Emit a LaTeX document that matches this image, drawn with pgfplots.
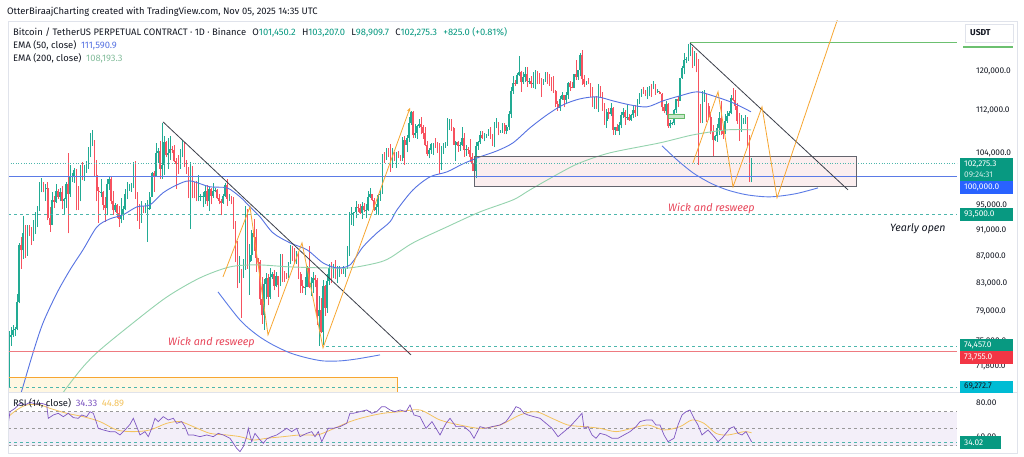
\documentclass[border=0pt]{standalone}
\usepackage{pgfplots}
\pgfplotsset{compat=1.18}
\usepackage{pgfplotstable}
\usepackage{fontspec}
\setmainfont{Fira Sans}
\usetikzlibrary{arrows.meta}

\definecolor{tvtext}{HTML}{131722}
\definecolor{upc}{HTML}{22AB94}
\definecolor{dnc}{HTML}{F7525F}
\definecolor{emaA}{HTML}{5672E2}
\definecolor{emaB}{HTML}{94D3AE}
\definecolor{tvgreen}{HTML}{089981}
\definecolor{tvred}{HTML}{F23645}
\definecolor{tvblue}{HTML}{2962FF}
\definecolor{tvcyan}{HTML}{00BCD4}
\definecolor{tealdash}{HTML}{4DB6AC}
\definecolor{orng}{HTML}{F7A631}
\definecolor{rsic}{HTML}{7E57C2}
\definecolor{rsima}{HTML}{F3C35E}
\definecolor{framec}{HTML}{E0E3EB}
\definecolor{wickc}{HTML}{E8475B}
\definecolor{lvlred}{HTML}{EE7A80}
\definecolor{hblue}{HTML}{5B7BE6}
\definecolor{trend}{HTML}{3C3F4A}
\definecolor{lgreen}{HTML}{6CC070}

\pgfkeys{/pgfplots/table/pix/.style={/pgfplots/table/row sep=\\, /pgfplots/table/x=x, /pgfplots/table/y expr={120*exp((71-\thisrow{y})/576)}}}
\pgfplotsset{candle/.style 2 args={draw=none, mark=none,
  error bars/.cd, y dir=plus, y explicit, error mark=none,
  error bar style={draw=#1, solid, line width=#2}}}

% daily candles (thousand USDT), 6 Nov 2024 ... 5 Nov 2025
\pgfplotstableread{
o h l c
69.4 76.4 69.3 75.6
75.6 76.9 74.5 75.9
75.9 77.2 75.6 76.5
76.5 76.9 75.8 76.7
76.7 81.5 76.5 80.4
80.4 89.0 80.2 88.7
88.7 89.9 85.1 87.9
87.9 93.3 86.6 90.5
90.5 91.8 86.7 87.3
87.3 91.9 87.1 91.0
91.0 91.9 90.1 90.6
90.6 91.5 88.7 89.8
89.8 92.6 89.4 90.5
90.5 94.0 90.4 92.3
92.3 94.9 91.5 94.3
94.3 98.9 94.1 98.3
98.3 99.6 97.2 98.9
98.9 98.9 97.2 97.7
97.7 98.6 95.8 98.0
98.0 98.9 92.6 93.0
93.0 94.7 90.8 91.9
91.9 97.2 91.8 95.9
95.9 96.6 94.6 95.6
95.6 98.7 95.4 97.4
97.4 97.8 96.0 96.4
96.4 97.9 95.7 97.2
97.2 98.2 94.4 95.8
95.8 96.3 93.6 96.0
96.0 99.0 94.6 98.7
98.7 104.0 90.5 96.9
96.9 101.9 96.5 99.8
99.8 100.5 99.0 99.9
99.9 101.4 98.8 101.1
101.1 101.2 94.2 97.3
97.3 98.3 94.3 96.6
96.6 101.9 95.7 101.1
101.1 102.5 99.3 100.0
100.0 102.0 99.2 101.4
101.4 102.6 100.6 101.4
101.4 105.1 101.2 104.3
104.3 107.8 103.3 106.0
106.0 108.3 105.3 106.1
106.1 106.5 100.0 100.2
100.2 102.8 95.7 97.4
97.4 98.1 92.2 97.2
97.2 99.5 96.4 97.2
97.2 97.4 94.2 95.1
95.1 96.4 92.4 94.6
94.6 99.4 93.4 98.6
98.6 99.9 97.6 99.4
99.4 99.9 95.2 95.8
95.8 97.4 93.5 94.2
94.2 95.5 94.0 95.1
95.1 95.2 93.0 93.7
93.7 94.9 91.5 92.8
92.8 96.2 92.1 93.4
93.4 95.0 92.7 94.4
94.4 97.8 94.2 96.9
96.9 98.9 96.0 98.1
98.1 98.7 97.5 98.2
98.2 98.8 97.3 98.3
98.3 102.5 97.9 102.2
102.2 102.7 96.1 96.9
96.9 97.2 92.5 95.0
95.0 95.3 91.2 92.5
92.5 95.8 92.2 94.7
94.7 95.0 93.8 94.5
94.5 95.4 93.7 94.5
94.5 95.9 89.2 94.5
94.5 97.3 94.3 96.5
96.5 100.7 96.5 100.5
100.5 100.8 97.3 99.9
99.9 105.9 99.9 104.1
104.1 104.9 102.3 104.4
104.4 106.3 99.5 101.3
101.3 109.6 99.5 102.0
102.0 107.2 100.1 106.1
106.1 106.3 103.3 103.7
103.7 106.8 101.2 104.0
104.0 107.1 102.8 104.8
104.8 105.3 104.1 104.7
104.7 105.5 102.5 102.6
102.6 103.2 97.8 102.1
102.1 103.8 100.3 101.3
101.3 104.8 101.3 103.7
103.7 106.5 103.3 104.7
104.7 106.0 101.6 102.4
102.4 102.8 100.3 100.6
100.6 101.5 96.2 97.7
97.7 102.5 91.2 101.4
101.4 101.7 96.2 97.9
97.9 99.0 96.2 96.6
96.6 99.2 95.7 96.5
96.5 100.1 95.7 96.5
96.5 96.9 95.7 96.5
96.5 97.3 94.7 96.5
96.5 98.3 95.3 97.4
97.4 98.5 94.9 95.7
95.7 98.1 94.1 97.8
97.8 98.0 95.2 96.6
96.6 98.8 96.3 97.5
97.5 97.9 97.2 97.6
97.6 97.7 96.1 96.2
96.2 97.0 95.2 95.8
95.8 96.0 93.4 95.5
95.5 96.9 95.3 96.6
96.6 98.8 96.4 98.4
98.4 99.5 94.9 96.1
96.1 96.9 95.8 96.6
96.6 96.6 95.2 96.1
96.1 96.5 91.2 91.5
91.5 92.5 86.1 88.7
88.7 89.3 82.3 84.3
84.3 87.0 83.0 84.7
84.7 85.1 78.2 84.4
84.4 86.6 83.8 86.0
86.0 95.0 85.0 94.3
94.3 94.4 85.1 86.1
86.1 88.9 81.4 87.2
87.2 91.0 86.3 90.6
90.6 92.8 87.8 89.9
89.9 91.2 84.7 86.7
86.7 86.8 85.2 86.2
86.2 86.5 80.0 80.7
80.7 83.9 77.4 78.5
78.5 83.6 76.6 82.9
82.9 84.5 80.7 83.7
83.7 84.3 79.9 81.1
81.1 85.3 80.8 83.9
83.9 84.7 83.6 84.3
84.3 85.0 82.0 82.6
82.6 84.7 82.4 84.0
84.0 84.0 81.1 82.7
82.7 87.4 82.6 86.8
86.8 87.4 83.2 84.2
84.2 84.8 83.2 84.0
84.0 84.5 83.6 83.8
83.8 86.1 83.7 86.1
86.1 88.7 85.8 87.5
87.5 88.5 86.3 87.4
87.4 88.3 85.8 86.9
86.9 87.8 85.8 87.2
87.2 87.5 83.6 84.4
84.4 84.6 81.6 82.6
82.6 83.5 81.6 82.3
82.3 83.9 81.3 82.5
82.5 85.5 82.4 85.2
85.2 88.5 82.3 82.5
82.5 83.9 81.2 83.1
83.1 84.7 81.6 83.8
83.8 84.2 82.4 83.5
83.5 83.8 77.2 78.4
78.4 81.2 74.5 79.2
79.2 80.9 76.2 76.3
76.3 83.5 74.6 82.6
82.6 82.7 78.4 79.6
79.6 84.3 78.9 83.4
83.4 85.9 82.8 85.3
85.3 86.1 83.0 83.7
83.7 85.8 83.7 84.5
84.5 86.5 83.6 83.6
83.6 85.5 83.1 84.0
84.0 85.5 83.9 84.9
84.9 85.1 84.3 84.5
84.5 85.6 84.4 85.1
85.1 85.3 83.9 85.2
85.2 88.5 85.1 87.5
87.5 93.9 87.1 93.4
93.4 94.7 91.9 93.7
93.7 94.0 91.7 93.9
93.9 95.8 92.9 94.7
94.7 95.3 93.9 94.6
94.6 95.2 93.6 93.7
93.7 95.6 92.8 95.0
95.0 95.5 93.9 94.2
94.2 95.2 92.9 94.2
94.2 97.4 94.1 96.5
96.5 97.9 96.3 96.9
96.9 96.9 95.7 95.9
95.9 96.3 94.1 94.3
94.3 95.2 93.5 94.7
94.7 96.9 93.4 96.8
96.8 97.7 95.8 97.0
97.0 103.9 96.9 103.2
103.2 104.3 102.3 103.0
103.0 104.9 102.8 104.6
104.6 104.9 103.3 104.1
104.1 105.8 100.7 102.8
102.8 104.9 101.4 104.1
104.1 104.3 102.6 103.5
103.5 104.2 101.4 103.7
103.7 104.5 103.1 103.5
103.5 103.7 102.6 103.1
103.1 107.0 102.6 106.5
106.5 107.1 102.0 105.6
105.6 107.3 104.2 106.8
106.8 110.8 106.1 109.6
109.6 112.0 109.3 111.7
111.7 111.9 106.8 107.3
107.3 109.5 106.9 107.8
107.8 109.3 106.6 109.0
109.0 110.4 108.7 109.4
109.4 110.7 107.5 108.9
108.9 109.3 106.7 107.8
107.8 108.9 105.3 105.6
105.6 106.3 103.6 103.9
103.9 104.9 103.1 104.6
104.6 105.9 103.9 105.7
105.7 105.9 103.7 105.8
105.8 106.8 105.0 105.4
105.4 106.0 104.1 104.7
104.7 105.9 100.4 101.5
101.5 105.3 101.1 104.3
104.3 105.9 103.9 105.6
105.6 106.0 105.0 105.7
105.7 110.5 105.4 110.2
110.2 110.4 108.3 110.2
110.2 110.4 108.1 108.6
108.6 108.8 105.6 105.6
105.6 106.2 102.7 106.0
106.0 106.2 104.3 105.4
105.4 106.1 104.5 105.6
105.6 108.9 105.4 106.8
106.8 107.8 103.4 104.6
104.6 105.6 103.6 104.8
104.8 105.2 103.9 104.6
104.6 106.6 102.4 103.3
103.3 104.0 100.8 102.1
102.1 103.0 99.3 100.9
100.9 106.1 99.6 105.4
105.4 106.3 104.7 106.0
106.0 108.1 105.8 107.3
107.3 108.2 106.6 106.9
106.9 107.8 106.2 107.1
107.1 107.6 106.8 107.3
107.3 108.5 107.2 108.4
108.4 108.8 106.7 107.1
107.1 107.6 105.3 105.7
105.7 109.8 105.1 108.8
108.8 110.5 108.6 109.6
109.6 109.8 107.3 108.0
108.0 108.4 107.8 108.2
108.2 109.7 107.8 109.2
109.2 109.7 107.5 108.2
108.2 109.2 107.5 108.9
108.9 111.9 108.4 111.3
111.3 116.8 110.6 115.9
115.9 118.9 115.3 117.5
117.5 118.2 116.9 117.4
117.4 119.5 117.3 119.1
119.1 123.2 118.9 119.8
119.8 119.9 115.7 117.7
117.7 119.8 117.3 118.7
118.7 120.9 117.8 119.3
119.3 120.9 116.8 117.9
117.9 118.6 117.3 117.9
117.9 118.9 116.5 117.3
117.3 119.7 116.5 117.4
117.4 120.2 116.2 119.9
119.9 120.0 117.3 118.6
118.6 119.5 117.4 118.3
118.3 118.5 114.7 117.6
117.6 118.3 117.2 117.9
117.9 119.8 117.8 119.4
119.4 119.8 117.4 118.0
118.0 119.3 116.9 117.9
117.9 118.8 115.8 117.8
117.8 118.9 115.5 115.8
115.8 116.0 112.7 113.3
113.3 114.0 112.0 112.5
112.5 114.8 112.0 114.2
114.2 115.7 114.1 115.0
115.0 115.1 112.7 114.1
114.1 115.7 113.4 115.0
115.0 117.7 114.3 117.5
117.5 117.9 115.9 116.7
116.7 117.7 116.4 116.5
116.5 119.3 116.5 119.3
119.3 122.3 118.1 118.7
118.7 120.3 118.2 120.2
120.2 123.7 118.9 123.3
123.3 124.5 117.2 118.3
118.3 119.2 116.8 117.4
117.4 117.9 117.2 117.5
117.5 118.6 117.3 117.4
117.4 117.6 114.7 116.2
116.2 116.8 112.7 112.9
112.9 114.6 112.4 114.3
114.3 114.8 112.4 112.5
112.5 117.4 111.7 116.9
116.9 117.0 114.7 115.4
115.4 115.6 112.0 113.5
113.5 113.6 109.3 110.1
110.1 112.4 108.7 111.8
111.8 112.6 110.4 111.3
111.3 113.5 110.9 112.6
112.6 112.7 107.4 108.4
108.4 108.9 107.4 108.8
108.8 109.5 108.1 108.2
108.2 109.9 107.3 109.2
109.2 111.8 108.6 111.2
111.2 112.6 110.6 111.7
111.7 112.2 109.3 110.7
110.7 113.4 110.2 110.7
110.7 111.3 110.1 110.2
110.2 111.4 110.1 111.1
111.1 112.9 110.6 112.1
112.1 113.2 110.8 111.5
111.5 114.3 110.9 113.9
113.9 115.5 113.4 115.5
115.5 116.3 114.7 116.1
116.1 116.7 115.3 115.9
115.9 116.0 114.8 115.3
115.3 116.8 114.4 115.4
115.4 117.0 114.8 116.8
116.8 117.3 114.7 116.5
116.5 117.9 116.2 117.1
117.1 117.4 115.1 115.7
115.7 116.3 115.5 115.7
115.7 115.9 115.2 115.3
115.3 115.4 111.9 112.7
112.7 113.3 111.5 112.0
112.0 114.0 111.1 113.3
113.3 113.5 108.7 109.0
109.0 110.2 108.6 109.6
109.6 109.8 109.2 109.7
109.7 112.4 109.2 112.1
112.1 114.4 111.6 114.4
114.4 114.8 112.7 114.0
114.0 118.6 113.9 118.6
118.6 121.0 118.4 120.6
120.6 123.9 119.3 122.3
122.3 122.9 121.6 122.4
122.4 125.7 122.1 123.5
123.5 126.2 123.1 124.7
124.7 125.1 120.6 121.4
121.4 124.2 121.0 123.3
123.3 123.7 119.7 121.7
121.7 122.5 102.0 113.2
113.2 113.4 109.6 110.6
110.6 115.8 109.6 115.2
115.2 116.0 113.8 115.3
115.3 115.3 109.8 113.0
113.0 113.6 110.2 110.8
110.8 111.7 107.5 108.2
108.2 109.2 103.5 106.4
106.4 107.4 106.3 107.2
107.2 109.4 106.1 108.6
108.6 111.7 107.4 110.6
110.6 114.0 107.4 108.4
108.4 109.1 106.6 107.6
107.6 111.3 107.5 110.1
110.1 112.0 109.7 111.0
111.0 111.9 110.9 111.6
111.6 115.0 111.3 114.5
114.5 116.4 113.9 114.1
114.1 116.1 112.2 112.9
112.9 113.6 109.5 110.0
110.0 111.6 106.3 108.3
108.3 111.2 108.0 109.6
109.6 110.5 109.4 110.1
110.1 111.2 109.5 110.5
110.5 110.8 105.3 106.5
106.5 107.3 99.0 101.5
101.45 103.2 98.9 102.3
}\candles

% RSI(14) and its moving average: x = pixel column, value = RSI
\pgfplotstableread{
x r
8.3 56.1
10 69.8
15 73.7
20 79.6
25 77.7
30 80.8
36.7 78.5
41.7 79.6
46.7 77.7
48.3 62.0
53.3 65.9
58.3 67.9
63.3 63.9
68.3 67.9
73.3 62.8
78.3 62.0
81.7 65.9
86.7 63.9
90 69.8
93.3 67.9
95 62.0
98.3 50.2
103.3 48.3
110 46.3
115 46.3
120 42.4
125 48.3
130 54.9
133.3 62.0
136.7 52.2
140 42.4
145 46.3
148.3 40.4
151.7 50.2
155 62.0
158.3 58.1
163.3 63.9
168.3 60.0
173.3 62.0
176.7 56.1
181.7 58.1
185 52.2
188.3 42.4
193.3 42.4
200 40.4
206.7 42.4
213.3 40.4
218.3 44.3
223.3 42.4
230 38.5
233.3 32.6
236.7 26.7
240 22.8
243.3 28.7
246.7 40.4
248.3 50.2
251.7 34.5
255 44.3
260 36.5
263.3 32.6
266.7 37.7
271.7 40.4
276.7 42.4
281.7 46.3
286.7 50.2
291.7 46.3
296.7 50.2
300 40.4
303.3 42.4
306.7 44.3
311.7 46.3
315 40.4
318.3 46.3
321.7 34.5
325 42.4
328.3 50.2
333.3 50.2
340 52.2
346.7 56.1
350 67.9
353.3 67.9
360 69.8
366.7 71.8
371.7 67.9
376.7 69.8
381.7 75.7
385 75.7
390 71.8
395 69.8
400 71.8
406 69.8
410 77.7
414 65.9
420 63.9
426 50.2
432 58.1
440 42.4
446 56.1
450 62.0
456 52.2
464 52.2
470 46.3
474 38.5
480 52.2
486 50.2
492 52.2
500 54.1
506 58.1
512 67.9
516 75.7
520 73.7
524 67.9
528 65.9
534 63.9
540 62.0
546 56.1
552 50.2
558 40.4
564 46.3
570 52.2
576 60.0
582 67.9
584 50.2
588 52.2
592 42.4
596 38.5
600 44.3
606 42.4
612 38.5
618 38.5
624 42.4
630 46.3
636 52.2
640 58.1
646 60.0
652 60.0
656 54.1
660 54.1
664 42.4
668 34.5
674 38.5
678 54.1
682 65.9
686 69.8
690 71.8
694 62.0
698 54.1
702 42.4
708 48.3
714 40.4
718 34.5
722 38.5
726 44.3
730 50.2
734 52.2
738 44.3
742 42.4
746 46.3
751.6 34.3
}\rsi

\pgfplotstableread{
x r
8.3 63.9
16.7 71.8
26.7 77.7
40 77.7
50 73.7
66.7 67.9
83.3 63.9
100 58.1
116.7 48.3
133.3 46.3
150 48.3
166.7 56.1
180 58.1
193.3 52.2
210 44.3
226.7 42.4
240 40.4
253.3 36.5
266.7 38.5
283.3 40.4
300 42.4
316.7 42.4
326.7 46.3
350 58.1
366.7 63.9
383.3 67.9
400 69.8
420 71.8
440 60.0
460 54.1
480 50.2
500 54.1
520 65.9
536 69.8
552 62.0
568 54.1
584 52.2
600 50.2
616 46.3
632 50.2
648 54.1
664 48.3
680 52.2
692 60.0
704 56.1
716 44.3
728 42.4
744 46.3
751.6 44.9
}\rsima

\begin{document}
\begin{tikzpicture}[font=\fontsize{9.4}{10}\selectfont]
\fill[white] (0,0) rectangle (1024pt,456pt);
\path[use as bounding box] (0,0) rectangle (1024pt,456pt);

% ---------------- price pane ----------------
\begin{axis}[
  at={(8pt,64pt)}, anchor=south west, scale only axis,
  width=949pt, height=371pt,
  xmin=8, xmax=957,
  ymode=log, ymin=68.73, ymax=130.88,
  axis line style={draw=none},
  xtick=\empty,
  ytick={71.8,75,79,83,87,91,95,104,112,120},
  yticklabels={{71,800.0},{75,000.0},{79,000.0},{83,000.0},{87,000.0},{91,000.0},{95,000.0},{104,000.0},{112,000.0},{120,000.0}},
  yticklabel pos=right,
  major tick length=0pt,
  yticklabel style={anchor=west, inner sep=0pt, xshift=19pt, text=tvtext, font=\fontsize{8.3}{9}\selectfont},
  clip=true,
]
% box fills
\addplot[draw=none, fill={rgb,255:red,251;green,238;blue,239}] table[pix] {x y\\474 157\\856 157\\856 187\\474 187\\};
\addplot[draw=none, fill={rgb,255:red,255;green,247;blue,226}] table[pix] {x y\\8 377\\397 377\\397 400\\8 400\\};

% candles: each series draws only its own candles (zero length for the others)
\addplot[candle={upc}{0.6pt}]
  table[x expr=9+2.04*\coordindex, y=l, y error plus expr={\thisrow{c}>=\thisrow{o} ? \thisrow{h}-\thisrow{l} : 0}] {\candles};
\addplot[candle={dnc}{0.6pt}]
  table[x expr=9+2.04*\coordindex, y=l, y error plus expr={\thisrow{c}<\thisrow{o} ? \thisrow{h}-\thisrow{l} : 0}] {\candles};
\addplot[candle={upc}{1.6pt}]
  table[x expr=9+2.04*\coordindex, y=o, y error plus expr={\thisrow{c}>=\thisrow{o} ? max(\thisrow{c}-\thisrow{o},0.12) : 0}] {\candles};
\addplot[candle={dnc}{1.6pt}]
  table[x expr=9+2.04*\coordindex, y=c, y error plus expr={\thisrow{c}<\thisrow{o} ? max(\thisrow{o}-\thisrow{c},0.12) : 0}] {\candles};

% EMA 200 and EMA 50
\addplot[emaB, line width=0.9pt, smooth] table[pix] {x y\\60 398\\65 390\\83 367\\100 350\\133 323\\167 297\\200 278\\230 267\\257 265\\290 267\\323 268\\350 268\\377 263\\390 258\\413 243\\447 227\\480 212\\513 200\\530 190\\560 173\\580 163\\610 153\\660 143\\693 135\\727 130\\751 130\\};
\addplot[emaA, line width=0.9pt, smooth] table[pix] {x y\\19 400\\22 390\\33 353\\43 323\\57 293\\70 270\\83 250\\97 227\\110 219\\123 215\\137 207\\150 205\\163 193\\177 185\\190 181\\210 187\\227 188\\240 197\\250 207\\260 217\\273 233\\290 243\\307 250\\323 263\\337 268\\350 265\\363 247\\377 233\\390 222\\397 210\\413 190\\430 177\\447 172\\463 164\\480 157\\497 151\\513 143\\530 128\\547 115\\563 105\\580 99\\597 97\\613 101\\630 105\\647 107\\663 101\\680 96\\697 92\\713 96\\733 103\\751 112\\};

% horizontal levels
\addplot[hblue, line width=0.8pt] coordinates {(8,100) (957,100)};
\addplot[tealdash, line width=0.6pt, dotted] coordinates {(8,102.2753) (957,102.2753)};
\addplot[tealdash, line width=0.8pt, dash pattern=on 3pt off 3pt] coordinates {(8,93.5) (957,93.5)};
\addplot[tealdash, line width=0.8pt, dash pattern=on 3pt off 3pt] coordinates {(326,74.457) (957,74.457)};
\addplot[lvlred, line width=0.9pt] coordinates {(8,73.755) (957,73.755)};
\addplot[tealdash, line width=0.8pt, dash pattern=on 3pt off 3pt] coordinates {(8,69.2727) (957,69.2727)};
\addplot[lgreen, line width=0.8pt] coordinates {(690,126.1) (957,126.1)};

% drawings
\addplot[draw=orng, line width=0.8pt] table[pix] {x y\\8 377\\397 377\\397 400\\};
\addplot[draw=trend!80, line width=0.8pt] table[pix] {x y\\474 157\\856 157\\856 187\\474 187\\474 157\\};
\addplot[draw={rgb,255:red,102;green,187;blue,106}, fill={rgb,255:red,200;green,230;blue,201}, line width=0.5pt] table[pix] {x y\\668 114\\684 114\\684 118\\668 118\\668 114\\};
\addplot[trend, line width=0.8pt] table[pix] {x y\\163 122\\411 355\\};
\addplot[trend, line width=0.8pt] table[pix] {x y\\690 43\\848 190\\};
\addplot[hblue, line width=0.9pt, smooth] table[pix] {x y\\218 292\\240 320\\257 335\\273 345\\290 353\\307 358\\323 361\\340 361\\357 359\\380 355\\};
\addplot[hblue, line width=0.9pt, smooth] table[pix] {x y\\662 146\\677 160\\693 173\\710 183\\727 190\\747 195\\770 197\\795 194\\818 188\\};
\addplot[orng, line width=0.8pt, -{Stealth[length=4pt,width=3.5pt]}] table[pix] {x y\\223 277\\250 207\\268 335\\302 243\\323 348\\410 108\\};
\addplot[orng, line width=0.8pt] table[pix] {x y\\693 163\\718 92\\733 187\\762 107\\777 198\\840 12\\};
\end{axis}

% ---------------- RSI pane ----------------
\begin{axis}[
  at={(8pt,3pt)}, anchor=south west, scale only axis,
  width=949pt, height=60pt,
  xmin=8, xmax=957, ymin=21.18, ymax=91.76,
  axis line style={draw=none}, xtick=\empty,
  ytick={40,80}, yticklabels={40.00,80.00},
  yticklabel pos=right, major tick length=0pt,
  yticklabel style={anchor=west, inner sep=0pt, xshift=19pt, text=tvtext, font=\fontsize{8.3}{9}\selectfont},
  clip=true,
]
\addplot[draw=none, fill=rsic, fill opacity=0.09] coordinates {(8,30) (957,30) (957,70) (8,70)} -- cycle;
\addplot[gray!80, line width=0.6pt, dash pattern=on 3pt off 3pt] coordinates {(8,70) (957,70)};
\addplot[gray!80, line width=0.6pt, dash pattern=on 3pt off 3pt] coordinates {(8,50) (957,50)};
\addplot[gray!80, line width=0.6pt, dash pattern=on 3pt off 3pt] coordinates {(8,30) (957,30)};
\addplot[tealdash, line width=0.7pt, dash pattern=on 3pt off 3pt] coordinates {(8,34.02) (957,34.02)};
\addplot[rsima, line width=0.8pt, smooth] table[x=x, y=r] {\rsima};
\addplot[rsic, line width=0.7pt] table[x=x, y=r] {\rsi};
\end{axis}

% ---------------- frame, labels, texts (pixel coordinates) ----------------
\begin{scope}[x=1pt, y=-1pt, shift={(0pt,456pt)}]
\draw[framec, line width=0.6pt] (8,21) rectangle (1017,453);
\draw[framec, line width=0.8pt] (8,392.5) -- (1017,392.5);

\node[anchor=west, inner sep=0, text=tvtext] at (7,12) {OtterBiraajCharting created with TradingView.com, Nov 05, 2025 14:35 UTC};
\node[anchor=west, inner sep=0, text=tvtext] at (13,32) {Bitcoin / TetherUS PERPETUAL CONTRACT · 1D · Binance\hspace{6.3pt}O\textcolor{tvgreen}{101,450.2}\hspace{6.3pt}H\textcolor{tvgreen}{103,207.0}\hspace{6.3pt}L\textcolor{tvgreen}{98,909.7}\hspace{6.3pt}C\textcolor{tvgreen}{102,275.3}\hspace{6.3pt}\textcolor{tvgreen}{+825.0 (+0.81\%)}};
\node[anchor=west, inner sep=0, text=tvtext] at (13,45) {EMA (50, close)\enspace\textcolor{emaA}{111,590.9}};
\node[anchor=west, inner sep=0, text=tvtext] at (13,58) {EMA (200, close)\enspace\textcolor{emaB!90!black}{108,193.3}};
\node[anchor=west, inner sep=0, text=tvtext] at (13,403) {RSI (14, close)\enspace\textcolor{rsic}{34.33}\enspace\textcolor{rsima}{44.89}};

\node[anchor=west, inner sep=0, text=wickc, font=\fontsize{10.8}{12}\itshape] at (168,342) {Wick and resweep};
\node[anchor=west, inner sep=0, text=wickc, font=\fontsize{10.8}{12}\itshape] at (668,208) {Wick and resweep};
\node[anchor=west, inner sep=0, text=tvtext, font=\fontsize{10.6}{12}\itshape] at (890,229) {Yearly open};

% USDT
\draw[framec, fill=white, line width=0.6pt] (965,24) rectangle (1013,42);
\node[anchor=west, inner sep=0, text=tvtext, font=\fontsize{8.6}{9}\selectfont\bfseries] at (970,33) {USDT};
\draw[lgreen, line width=2pt] (963,47.5) -- (1013,47.5);

% price labels
\fill[tvgreen] (960,158) rectangle (1013,181);
\node[anchor=west, inner sep=0, text=white, font=\fontsize{8.3}{9}\selectfont] at (964,164) {102,275.3};
\node[anchor=west, inner sep=0, text=white!80!tvgreen, font=\fontsize{8.3}{9}\selectfont] at (964,174.5) {09:24:31};
\fill[tvblue] (960,181) rectangle (1013,193.5);
\node[anchor=west, inner sep=0, text=white, font=\fontsize{8.3}{9}\selectfont] at (964,187.3) {100,000.0};
\fill[tvgreen] (960,208) rectangle (1013,220.5);
\node[anchor=west, inner sep=0, text=white, font=\fontsize{8.3}{9}\selectfont] at (964,214.3) {93,500.0};
\fill[tvgreen] (960,339) rectangle (1013,351.3);
\node[anchor=west, inner sep=0, text=white, font=\fontsize{8.3}{9}\selectfont] at (964,345.2) {74,457.0};
\fill[tvred] (960,351.3) rectangle (1013,364);
\node[anchor=west, inner sep=0, text=white, font=\fontsize{8.3}{9}\selectfont] at (964,357.7) {73,755.0};
\fill[tvcyan] (960,380.5) rectangle (1013,392.5);
\node[anchor=west, inner sep=0, text=tvtext, font=\fontsize{8.3}{9}\selectfont] at (964,386.6) {69,272.7};
\fill[tvgreen] (960,436) rectangle (1001,448.5);
\node[anchor=west, inner sep=0, text=white, font=\fontsize{8.3}{9}\selectfont] at (964,442.3) {34.02};
\end{scope}
\end{tikzpicture}
\end{document}
